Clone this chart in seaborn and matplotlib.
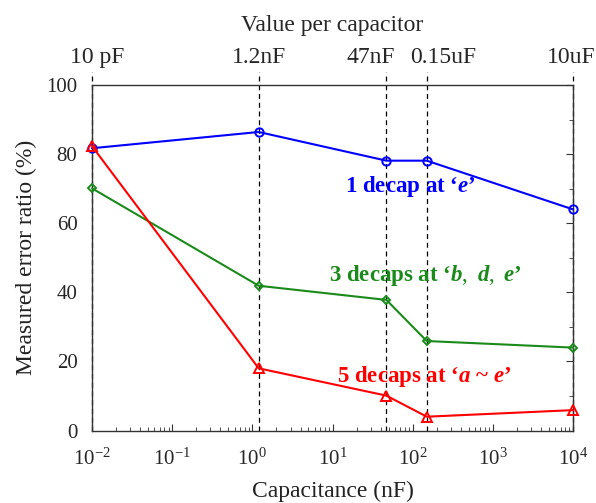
import numpy as np
import pandas as pd
import matplotlib
matplotlib.use("Agg")
import matplotlib.pyplot as plt
import matplotlib.transforms as mtransforms
import seaborn as sns
from matplotlib.ticker import (LogLocator, LogFormatterSciNotation, MultipleLocator,
                               NullFormatter, FixedLocator)

# Data
capacitance_nf = [0.01, 1.2, 47, 150, 10000]
top_labels = ["10 pF", "1.2nF", "47nF", "0.15uF", "10uF"]
one_decap = [81.7, 86.4, 78.1, 78.1, 64.0]
three_decaps = [70.1, 41.9, 37.8, 25.9, 24.0]
five_decaps = [82.3, 18.0, 10.1, 4.0, 5.9]
x_decades = [1e-2, 1e-1, 1e0, 1e1, 1e2, 1e3, 1e4]

sns.set_style("white")
plt.rcParams['font.family'] = ['Liberation Serif', 'DejaVu Serif']
plt.rcParams['mathtext.fontset'] = 'custom'
plt.rcParams['mathtext.rm'] = 'Liberation Serif'
plt.rcParams['mathtext.it'] = 'Liberation Serif:italic:bold'
plt.rcParams['mathtext.bf'] = 'Liberation Serif:bold'

fig = plt.figure(figsize=(5.96, 5.03), dpi=100)
ax = fig.add_axes([0.1544, 0.1441, 0.807, 0.6869])

series = [
    (one_decap, "#0000ff", "o", 6, 1.5),
    (three_decaps, "#1a8a1a", "D", 4.5, 1.5),
    (five_decaps, "#ff0000", "^", 7.5, 1.5),
]
for vals, col, mk, ms, lw in series:
    df = pd.DataFrame({"x": capacitance_nf, "y": vals})
    sns.lineplot(data=df, x="x", y="y", ax=ax, color=col, marker=mk,
                 markersize=ms, markerfacecolor="none", markeredgecolor=col,
                 markeredgewidth=1.4, linewidth=lw, zorder=3, clip_on=False)

ax.set_xscale("log")
ax.set_xlim(x_decades[0], x_decades[-1])
ax.set_ylim(0, 100)

for xv in capacitance_nf:
    ax.axvline(xv, ymin=0, ymax=1.038, color="black", linestyle=(0, (4, 3)),
               linewidth=0.9, clip_on=False, zorder=2)

ax.xaxis.set_major_locator(FixedLocator(x_decades))
ax.xaxis.set_major_formatter(LogFormatterSciNotation())
ax.xaxis.set_minor_locator(LogLocator(base=10, subs=np.arange(2, 10), numticks=20))
ax.xaxis.set_minor_formatter(NullFormatter())
ax.yaxis.set_major_locator(MultipleLocator(20))
ax.yaxis.set_minor_locator(MultipleLocator(10))
ax.tick_params(which="both", direction="in", top=True, right=True, labelsize=15, color="#333333")
ax.tick_params(which="major", length=5)
ax.tick_params(which="minor", length=3)
ax.tick_params(axis="x", which="major", pad=13)
ax.tick_params(axis="y", which="major", pad=10.5)
for s in ax.spines.values():
    s.set_color("#333333")
    s.set_linewidth(1.0)

ax.set_xlabel("Capacitance (nF)", fontsize=17, color="#222222", labelpad=8)
ax.set_ylabel("Measured error ratio (%)", fontsize=17, color="#222222", labelpad=7)

ax2 = ax.twiny()
ax2.set_xscale("log")
ax2.set_xlim(ax.get_xlim())
ax2.set_xticks(capacitance_nf)
ax2.set_xticklabels(top_labels)
ax2.xaxis.set_minor_locator(matplotlib.ticker.NullLocator())
ax2.tick_params(axis="x", length=0, labelsize=17, pad=12)
ax2.set_xlabel("Value per capacitor", fontsize=17, labelpad=12)
for s in ax2.spines.values():
    s.set_visible(False)
label_shift_px = [5, 0, -16, 16, -2]
for lab, dx in zip(ax2.get_xticklabels(), label_shift_px):
    lab.set_transform(lab.get_transform() +
                      mtransforms.ScaledTranslation(dx / 100.0, 0, fig.dpi_scale_trans))

ax.text(0.526, 0.705, "1 decap at \u2018$\\it{e}$\u2019", transform=ax.transAxes,
        color="#0000ff", fontsize=16.5, fontweight="bold", ha="left", va="center")
ax.text(0.493, 0.45, "3 decaps at \u2018$\\it{b,\\ d,\\ e}$\u2019", transform=ax.transAxes,
        color="#1a8a1a", fontsize=16.5, fontweight="bold", ha="left", va="center")
ax.text(0.509, 0.155, "5 decaps at \u2018$\\it{a}$ ~ $\\it{e}$\u2019", transform=ax.transAxes,
        color="#ff0000", fontsize=16.5, fontweight="bold", ha="left", va="center")

fig.savefig("out.png", dpi=100)
